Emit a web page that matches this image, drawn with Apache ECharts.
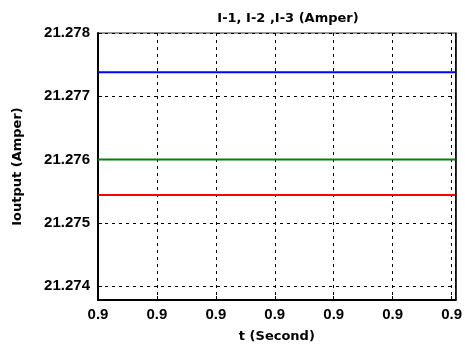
<!DOCTYPE html>
<html>
<head>
<meta charset="utf-8">
<script src="https://cdn.jsdelivr.net/npm/echarts@6/dist/echarts.min.js"></script>
<style>
  html, body { margin: 0; padding: 0; background: #fff; }
  #chart { width: 465px; height: 349px; }
</style>
</head>
<body>
<div id="chart"></div>
<script>
// Sample times (s) and the three phase currents (A)
const time = [0.9, 0.90002, 0.90004, 0.9000607];
const current1 = [21.27738, 21.27738, 21.27738, 21.27738];
const current2 = [21.27600, 21.27600, 21.27600, 21.27600];
const current3 = [21.27544, 21.27544, 21.27544, 21.27544];

const seriesNames = ['I-1', 'I-2', 'I-3'];
const seriesColors = ['#0000ff', '#008000', '#ff0000'];

const yMin = 21.27378;
const yMax = 21.278;
const xMin = 0.9;
const xMax = 0.9000607;
const xStep = 0.00001;

const txt = { fontFamily: '"DejaVu Sans", Verdana, sans-serif', fontSize: 13, fontWeight: 'bold', color: '#000' };
const tickTxt = { fontFamily: '"Liberation Sans", Arial, sans-serif', fontSize: 15, fontWeight: 'bold', color: '#000' };
const chart = echarts.init(document.getElementById('chart'), null, { renderer: 'canvas' });

const toPairs = vals => time.map((t, i) => [t, vals[i]]);
const dashed = { show: true, lineStyle: { color: '#000', type: [3, 4], width: 1 } };

chart.setOption({
  animation: false,
  backgroundColor: '#fff',
  title: {
    text: 'I-1, I-2 ,I-3 (Amper)',
    left: 283, top: 7, textAlign: 'center',
    textStyle: txt
  },
  grid: { left: 98, right: 9, top: 33, bottom: 49, containLabel: false,
          show: true, borderColor: '#333', borderWidth: 1 },
  xAxis: {
    type: 'value', min: xMin, max: xMax, interval: xStep,
    name: 't (Second)', nameLocation: 'middle', nameGap: 30,
    nameTextStyle: txt,
    axisLine: { show: true, lineStyle: { color: '#000', width: 2 } },
    axisTick: { show: true, inside: true, length: 4, lineStyle: { color: '#000' } },
    axisLabel: Object.assign({ showMaxLabel: false, formatter: v => v.toFixed(1), margin: 7 }, tickTxt),
    splitLine: dashed
  },
  yAxis: [{
    type: 'value', min: yMin, max: yMax, splitNumber: 5,
    name: 'Ioutput (Amper)', nameLocation: 'middle', nameGap: 74,
    nameTextStyle: txt,
    axisLine: { show: true, lineStyle: { color: '#000', width: 2 } },
    axisTick: { show: true, inside: true, length: 4, lineStyle: { color: '#000' } },
    axisLabel: Object.assign({ showMinLabel: false, formatter: v => v.toFixed(3), margin: 8 }, tickTxt),
    splitLine: dashed
  }, {
    // right-hand frame edge
    type: 'value', position: 'right', min: yMin, max: yMax,
    axisLine: { show: true, onZero: false, lineStyle: { color: '#000', width: 1.5 } },
    axisTick: { show: false }, axisLabel: { show: false }, splitLine: { show: false }
  }],
  series: [current1, current2, current3].map((vals, i) => ({
    name: seriesNames[i], type: 'line', data: toPairs(vals),
    showSymbol: false, lineStyle: { color: seriesColors[i], width: 2 }, z: 5
  }))
});
</script>
</body>
</html>
